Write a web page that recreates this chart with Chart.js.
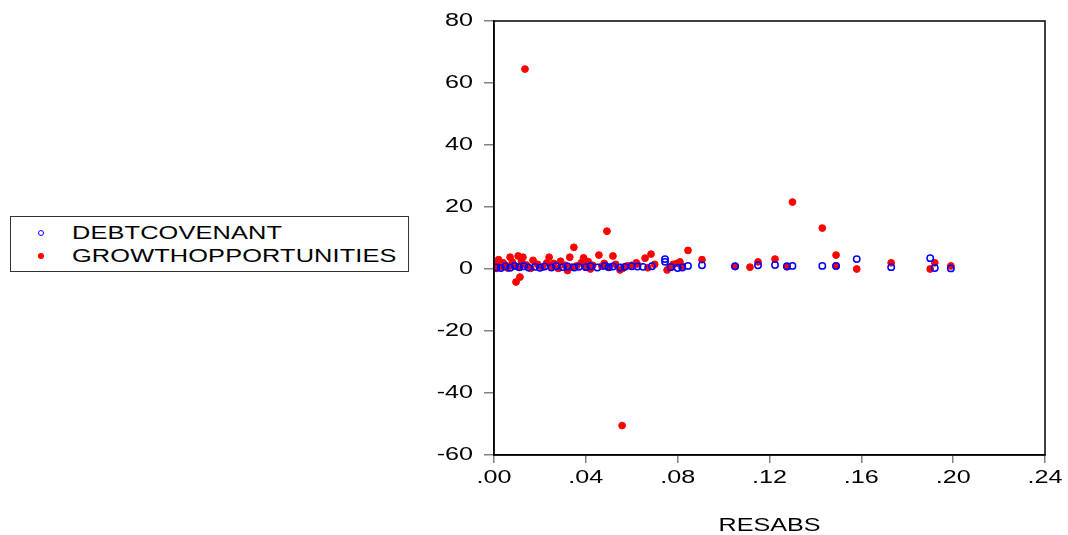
<!DOCTYPE html>
<html>
<head>
<meta charset="utf-8">
<script src="https://cdn.jsdelivr.net/npm/chart.js@4/dist/chart.umd.min.js"></script>
<style>
  html, body { margin: 0; padding: 0; background: #fff; }
  #wrap { position: relative; width: 1068px; height: 535px; }
  #c { position: absolute; left: 0; top: 0; }
  #legend {
    position: absolute; left: 10px; top: 216px; width: 397px; height: 54px;
    border: 1.5px solid #333; background: #fff; box-sizing: content-box;
    font-family: "Liberation Sans", Arial, sans-serif; font-size: 18.5px; color: #000;
  }
  .row { position: absolute; left: 0; height: 22px; line-height: 22px; white-space: nowrap; }
  .mk { position: absolute; left: 27px; top: 8px; width: 6px; height: 6px; border-radius: 50%; box-sizing: border-box; }
  .txt { position: absolute; left: 61px; top: 0; transform: scaleX(1.37); transform-origin: 0 50%; letter-spacing: 0.1px; }
</style>
</head>
<body>
<div id="wrap">
  <canvas id="c" width="1068" height="535"></canvas>
  <div id="legend">
    <div class="row" style="top:5px"><span class="mk" style="border:1.3px solid #0000ff"></span><span class="txt" id="l0"></span></div>
    <div class="row" style="top:28px"><span class="mk" style="background:#ff0000"></span><span class="txt" id="l1"></span></div>
  </div>
</div>
<script>
const seriesNames = ["DEBTCOVENANT", "GROWTHOPPORTUNITIES"];
const xTitle = "RESABS";
const xTicks = [0, 0.04, 0.08, 0.12, 0.16, 0.20, 0.24];
const xTickLabels = [".00", ".04", ".08", ".12", ".16", ".20", ".24"];
const yTicks = [-60, -40, -20, 0, 20, 40, 60, 80];
const yTickLabels = ["-60", "-40", "-20", "0", "20", "40", "60", "80"];

const debtX = [0.001,0.003,0.005,0.007,0.009,0.011,0.013,0.015,0.018,0.020,0.022,0.025,0.027,0.030,0.032,0.035,0.037,0.040,0.042,0.045,0.0483,0.050,0.0518,0.055,0.057,0.060,0.0625,0.0649,0.0688,0.0745,0.0745,0.077,0.080,0.082,0.0845,0.0906,0.105,0.115,0.1224,0.1276,0.130,0.143,0.149,0.158,0.173,0.190,0.192,0.199];
const debtY = [0.5,0.3,0.8,0.4,1.0,0.6,0.9,0.5,0.7,0.4,0.8,0.5,0.9,0.6,0.8,0.5,0.7,0.6,0.9,0.5,1.0,0.6,0.8,0.5,0.7,0.9,0.8,0.7,0.9,3.2,2.3,0.6,0.3,0.5,1.0,1.2,0.9,1.2,1.3,0.9,1.0,1.0,1.0,3.2,0.6,3.5,0.3,0.2];

const growthX = [0.001,0.001,0.002,0.003,0.004,0.005,0.006,0.007,0.008,0.009,0.0096,0.0105,0.011,0.0113,0.012,0.0126,0.0135,0.014,0.016,0.017,0.019,0.021,0.023,0.024,0.025,0.026,0.028,0.029,0.031,0.032,0.033,0.034,0.0348,0.036,0.038,0.039,0.040,0.041,0.042,0.043,0.0457,0.047,0.048,0.0492,0.050,0.0518,0.053,0.0549,0.0558,0.056,0.058,0.060,0.062,0.0623,0.0658,0.067,0.0684,0.070,0.0754,0.0767,0.078,0.0797,0.081,0.082,0.0845,0.0906,0.105,0.1115,0.115,0.1224,0.1276,0.130,0.143,0.149,0.149,0.158,0.173,0.190,0.192,0.199];
const growthY = [1.5,0.2,3.0,0.8,2.0,1.2,0.3,3.8,2.2,1.0,-4.2,4.2,0.5,-2.6,2.5,3.8,64.5,1.3,0.2,2.8,1.5,0.6,2.0,3.8,0.8,1.8,0.2,2.5,1.2,-0.5,3.8,0.6,7.0,1.0,2.0,3.6,0.8,2.4,0.0,1.2,4.5,0.9,1.8,12.2,0.5,4.2,1.5,-0.3,-50.5,0.2,1.0,1.2,2.0,1.6,3.5,0.4,4.8,1.5,-0.3,0.6,1.5,1.8,2.3,0.9,6.0,3.0,0.8,0.6,2.3,3.2,0.7,21.6,13.2,4.5,1.0,0.0,2.0,0.0,2.0,1.0];

document.getElementById('l0').textContent = seriesNames[0];
document.getElementById('l1').textContent = seriesNames[1];

const toPts = (xs, ys) => xs.map((x, i) => ({ x: x, y: ys[i] }));
const FONTSTR = '18.5px "Liberation Sans", Arial, sans-serif';
const STRETCH = 1.36;

function wideText(ctx, text, x, y, align) {
  ctx.save();
  ctx.translate(x, y);
  ctx.scale(STRETCH, 1);
  ctx.textAlign = align;
  ctx.textBaseline = 'middle';
  ctx.fillText(text, 0, 0);
  ctx.restore();
}

const framePlugin = {
  id: 'frame',
  afterDraw(chart) {
    const { ctx, chartArea: a, scales } = chart;
    ctx.save();
    ctx.strokeStyle = '#000';
    ctx.lineWidth = 1.5;
    ctx.strokeRect(a.left, a.top, a.right - a.left, a.bottom - a.top);
    ctx.fillStyle = '#000';
    ctx.font = FONTSTR;
    yTicks.forEach((v, i) => wideText(ctx, yTickLabels[i], a.left - 21, scales.y.getPixelForValue(v), 'right'));
    xTicks.forEach((v, i) => wideText(ctx, xTickLabels[i], scales.x.getPixelForValue(v), a.bottom + 23, 'center'));
    wideText(ctx, xTitle, (a.left + a.right) / 2, 526, 'center');
    ctx.restore();
  }
};

new Chart(document.getElementById('c'), {
  type: 'scatter',
  data: {
    datasets: [
      { label: seriesNames[0], data: toPts(debtX, debtY), backgroundColor: 'rgba(0,0,0,0)', borderColor: '#0000ff', borderWidth: 1.5, pointRadius: 3.2, pointHoverRadius: 3.2 },
      { label: seriesNames[1], data: toPts(growthX, growthY), backgroundColor: '#ff0000', borderColor: '#ff0000', borderWidth: 1, pointRadius: 3.4, pointHoverRadius: 3.4 }
    ]
  },
  options: {
    responsive: false, animation: false, devicePixelRatio: 1,
    layout: { padding: { left: 424, top: 21, right: 23, bottom: 0 } },
    plugins: { legend: { display: false }, tooltip: { enabled: false } },
    scales: {
      x: {
        type: 'linear', min: 0, max: 0.24,
        afterBuildTicks(s) { s.ticks = xTicks.map(v => ({ value: v })); },
        afterFit(s) { s.height = 80; },
        grid: { drawOnChartArea: false, drawTicks: true, tickLength: 8, color: '#808080', lineWidth: 1.5 },
        border: { display: true, color: '#000', width: 1.5 },
        ticks: { display: false, autoSkip: false },
        title: { display: false }
      },
      y: {
        type: 'linear', min: -60, max: 80,
        afterBuildTicks(s) { s.ticks = yTicks.map(v => ({ value: v })); },
        afterFit(s) { s.width = 70; },
        grid: { drawOnChartArea: false, drawTicks: true, tickLength: 10, color: '#808080', lineWidth: 1.5 },
        border: { display: true, color: '#000', width: 1.5 },
        ticks: { display: false, autoSkip: false }
      }
    }
  },
  plugins: [framePlugin]
});
</script>
</body>
</html>
